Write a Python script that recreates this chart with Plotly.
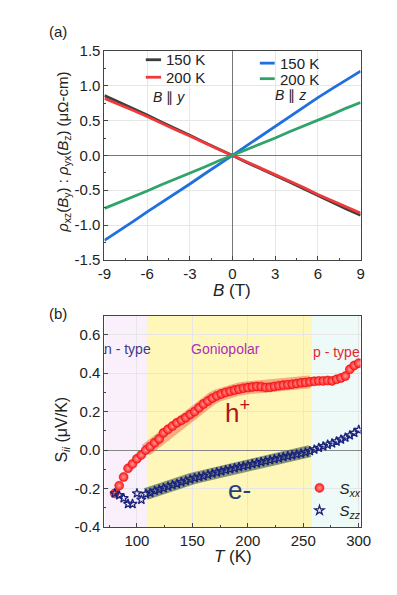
import plotly.graph_objects as go

# ---------------- Panel (a) data ----------------
B_field = [-9, -8, -7, -6, -5, -4, -3, -2, -1, 0, 1, 2, 3, 4, 5, 6, 7, 8, 9]
rho_y_150 = [0.86, 0.77, 0.67, 0.58, 0.48, 0.39, 0.29, 0.19, 0.10, 0.0,
             -0.10, -0.19, -0.29, -0.38, -0.48, -0.58, -0.67, -0.77, -0.86]
rho_y_200 = [0.82, 0.74, 0.65, 0.56, 0.46, 0.37, 0.28, 0.18, 0.09, 0.0,
             -0.09, -0.18, -0.28, -0.37, -0.46, -0.56, -0.65, -0.74, -0.83]
rho_z_150 = [-1.22, -1.09, -0.95, -0.81, -0.68, -0.55, -0.41, -0.27, -0.14, 0.0,
             0.14, 0.28, 0.42, 0.56, 0.70, 0.83, 0.96, 1.09, 1.21]
rho_z_200 = [-0.76, -0.68, -0.59, -0.51, -0.42, -0.34, -0.25, -0.17, -0.08, 0.0,
             0.08, 0.17, 0.25, 0.34, 0.42, 0.51, 0.59, 0.68, 0.76]

a_xticks = [-9, -6, -3, 0, 3, 6, 9]
a_xticktext = ["-9", "-6", "-3", "0", "3", "6", "9"]
a_yticks = [-1.5, -1.0, -0.5, 0.0, 0.5, 1.0, 1.5]
a_yticktext = ["-1.5", "-1.0", "-0.5", "0.0", "0.5", "1.0", "1.5"]

# ---------------- Panel (b) data ----------------
T = [80, 84, 88, 92, 96, 100, 104, 108, 112, 116, 120, 124, 128, 132, 136, 140,
     144, 148, 152, 156, 160, 164, 168, 172, 176, 180, 184, 188, 192, 196, 200,
     204, 208, 212, 216, 220, 224, 228, 232, 236, 240, 244, 248, 252, 256, 260,
     264, 268, 272, 276, 280, 284, 288, 292, 296, 300]
S_xx = [-0.225, -0.185, -0.14, -0.095, -0.072, -0.045, -0.025, 0.0, 0.018, 0.038,
        0.058, 0.09, 0.108, 0.125, 0.142, 0.155, 0.168, 0.185, 0.2, 0.22, 0.24,
        0.255, 0.27, 0.282, 0.292, 0.300, 0.306, 0.312, 0.317, 0.322, 0.325,
        0.328, 0.331, 0.33, 0.326, 0.327, 0.331, 0.335, 0.338, 0.34, 0.343,
        0.346, 0.35, 0.352, 0.355, 0.358, 0.36, 0.36, 0.362, 0.36, 0.368,
        0.375, 0.385, 0.42, 0.44, 0.452]
S_zz = [-0.225, -0.235, -0.25, -0.28, -0.28, -0.225, -0.258, -0.228, -0.222,
        -0.212, -0.205, -0.198, -0.19, -0.182, -0.175, -0.167, -0.16, -0.152,
        -0.145, -0.14, -0.135, -0.128, -0.122, -0.116, -0.11, -0.104, -0.099,
        -0.094, -0.088, -0.083, -0.079, -0.073, -0.068, -0.062, -0.057, -0.052,
        -0.047, -0.042, -0.036, -0.031, -0.027, -0.022, -0.018, -0.012, -0.005,
        0.003, 0.012, 0.02, 0.028, 0.035, 0.045, 0.055, 0.065, 0.077, 0.09, 0.105]

T_MIN, N_END, P_START, T_MAX = 70.7, 109, 258, 301.7
BAND_START, BAND_END = 108, 256

b_xticks = [100, 150, 200, 250, 300]
b_xticktext = ["100", "150", "200", "250", "300"]
b_yticks = [-0.4, -0.2, 0.0, 0.2, 0.4, 0.6]
b_yticktext = ["-0.4", "-0.2", "0.0", "0.2", "0.4", "0.6"]

W, H = 397, 595
FONT = "Liberation Sans, Arial, sans-serif"


def px(x):
    return x / W


def py(y):
    return 1 - y / H


fig = go.Figure()

# Panel (a) traces
for y, c in [(rho_y_150, "#3c3c3c"), (rho_y_200, "#ee3a3a"),
             (rho_z_150, "#1f6fe0"), (rho_z_200, "#2ea36a")]:
    fig.add_trace(go.Scatter(x=B_field, y=y, mode="lines", xaxis="x", yaxis="y",
                             line=dict(color=c, width=2.8), showlegend=False,
                             hoverinfo="skip"))

# Panel (b) bands
band_T = [t for t in T if BAND_START <= t <= BAND_END]
band_xx = [s for t, s in zip(T, S_xx) if BAND_START <= t <= BAND_END]
band_zz = [s for t, s in zip(T, S_zz) if BAND_START <= t <= BAND_END]
fig.add_trace(go.Scatter(x=band_T, y=band_xx, mode="lines", xaxis="x2", yaxis="y2",
                         line=dict(color="rgba(240,80,60,0.45)", width=13),
                         showlegend=False, hoverinfo="skip"))
fig.add_trace(go.Scatter(x=band_T, y=band_zz, mode="lines", xaxis="x2", yaxis="y2",
                         line=dict(color="rgba(55,85,70,0.6)", width=12),
                         showlegend=False, hoverinfo="skip"))

fig.add_trace(go.Scatter(x=T, y=S_xx, mode="markers", xaxis="x2", yaxis="y2",
                         name="<i>S</i><sub><i>xx</i></sub>",
                         marker=dict(symbol="circle", size=9, color="#ff1a1a",
                                     gradient=dict(type="radial", color="#ff9a9a"),
                                     line=dict(color="#e00000", width=0.5)),
                         legend="legend"))
fig.add_trace(go.Scatter(x=T, y=S_zz, mode="markers", xaxis="x2", yaxis="y2",
                         name="<i>S</i><sub><i>zz</i></sub>",
                         marker=dict(symbol="star-open", size=7, color="#1c237e",
                                     line=dict(color="#1c237e", width=1.3)),
                         legend="legend"))

axis_common = dict(showline=True, linecolor="#444", linewidth=1, mirror=True,
                   ticks="inside", ticklen=4, tickcolor="#444",
                   tickfont=dict(family=FONT, size=15, color="#222"),
                   showgrid=True, gridcolor="#e6e6e6", gridwidth=1,
                   tickmode="array")

fig.update_layout(
    width=W, height=H,
    margin=dict(l=0, r=0, t=0, b=0),
    paper_bgcolor="white", plot_bgcolor="white",
    font=dict(family=FONT, size=14, color="#222"),
    xaxis=dict(domain=[px(93.7), px(362)], anchor="y", range=[-9, 9],
               tickvals=a_xticks, ticktext=a_xticktext,
               zeroline=True, zerolinecolor="#777", zerolinewidth=1,
               minor=dict(ticks="inside", ticklen=2, tick0=-9, dtick=1.5,
                          tickcolor="#444", showgrid=False),
               **axis_common),
    yaxis=dict(domain=[py(250), py(35)], anchor="x", range=[-1.5, 1.5],
               tickvals=a_yticks, ticktext=a_yticktext,
               zeroline=True, zerolinecolor="#777", zerolinewidth=1,
               minor=dict(ticks="inside", ticklen=2, tick0=-1.5, dtick=0.25,
                          tickcolor="#444", showgrid=False),
               **axis_common),
    xaxis2=dict(domain=[px(93.7), px(362)], anchor="y2", range=[T_MIN, T_MAX],
                tickvals=b_xticks, ticktext=b_xticktext, zeroline=False,
                minor=dict(ticks="inside", ticklen=2, tick0=75, dtick=25,
                           tickcolor="#444", showgrid=False),
                **axis_common),
    yaxis2=dict(domain=[py(525), py(307.3)], anchor="x2", range=[-0.4, 0.7],
                tickvals=b_yticks, ticktext=b_yticktext,
                zeroline=True, zerolinecolor="#888", zerolinewidth=1,
                minor=dict(ticks="inside", ticklen=2, tick0=-0.4, dtick=0.1,
                           tickcolor="#444", showgrid=False),
                **axis_common),
    legend=dict(x=px(298), y=py(468), xanchor="left", yanchor="top",
                bgcolor="rgba(0,0,0,0)", borderwidth=0,
                font=dict(family=FONT, size=15, color="#222"),
                tracegroupgap=0, itemsizing="trace"),
)

# Panel (b) regions
for x0, x1, col in [(T_MIN, N_END, "#f9f0fb"), (N_END, P_START, "#fef7b9"),
                    (P_START, T_MAX, "#eefaf8")]:
    fig.add_shape(type="rect", xref="x2", yref="y2", x0=x0, x1=x1, y0=-0.4, y1=0.7,
                  fillcolor=col, line=dict(width=0), layer="below")

# Panel (a) legend samples
for y, c in [(44, "#3c3c3c"), (62, "#ee3a3a")]:
    fig.add_shape(type="line", xref="paper", yref="paper", x0=px(137), x1=px(153),
                  y0=py(y), y1=py(y), line=dict(color=c, width=2.8))
for y, c in [(47.5, "#1f6fe0"), (63.5, "#2ea36a")]:
    fig.add_shape(type="line", xref="paper", yref="paper", x0=px(256.5), x1=px(272),
                  y0=py(y), y1=py(y), line=dict(color=c, width=2.8))


def ann(text, x, y, size=14, color="#222", xanchor="center", angle=0):
    fig.add_annotation(text=text, x=px(x), y=py(y), xref="paper", yref="paper",
                       showarrow=False, xanchor=xanchor, yanchor="middle",
                       textangle=angle,
                       font=dict(family=FONT, size=size, color=color))


ann("150 K", 156, 44, 15, xanchor="left")
ann("200 K", 156, 62, 15, xanchor="left")
ann("<i>B</i> ∥ <i>y</i>", 161, 82, 14)
ann("150 K", 275, 48, 15, xanchor="left")
ann("200 K", 275, 64, 15, xanchor="left")
ann("<i>B</i> ∥ <i>z</i>", 289, 80, 14)

ann("(a)", 45, 15, 15)
ann("(b)", 45, 305, 15)
ann("<i>B</i> (T)", 227, 282, 17)
ann("<i>T</i> (K)", 228, 555, 17)
ann("<i>ρ</i><sub>xz</sub>(<i>B</i><sub>y</sub>) : <i>ρ</i><sub>yx</sub>(<i>B</i><sub>z</sub>) (μΩ-cm)",
    50, 139, 15, angle=-90)
ann("S<sub><i>ii</i></sub> (μV/K)", 50, 425, 16, angle=-90)

ann("n - type", 118, 342, 14, color="#3b3b85")
ann("Goniopolar", 221, 342, 14, color="#b02fb8")
ann("p - type", 337, 345, 14, color="#e8262a")
ann("h<sup>+</sup>", 233, 406, 26, color="#b5121b")
ann("e-", 235, 487, 26, color="#27407a")

fig.write_html("out.html")
